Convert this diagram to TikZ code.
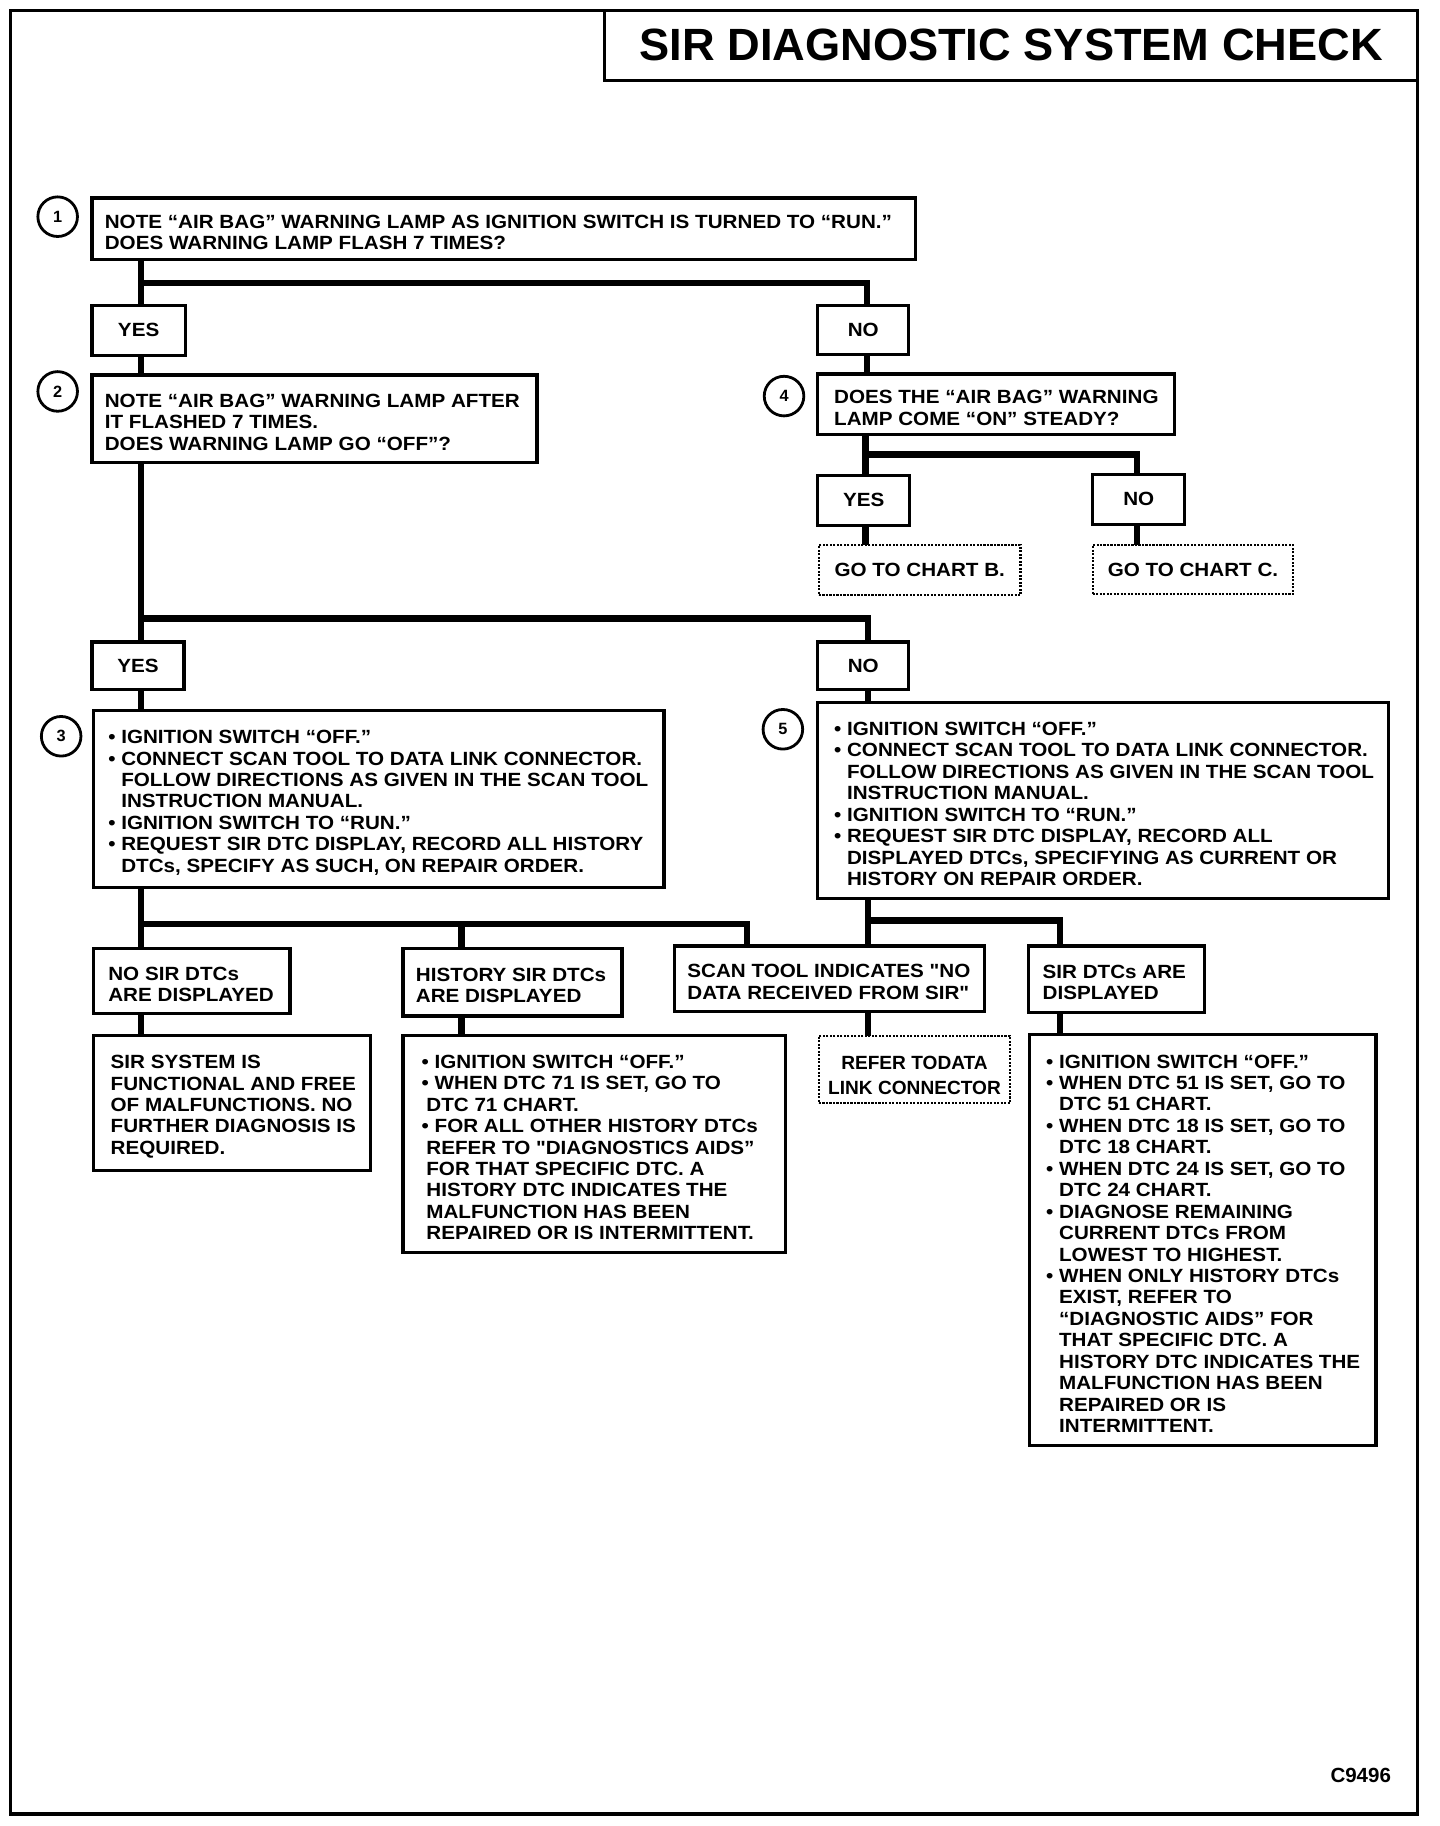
\documentclass[tikz,border=0pt]{standalone}
\usepackage{fontspec}
\newfontfamily\bodyf[FakeStretch=1.08]{Liberation Sans Bold}
\newfontfamily\plainf{Liberation Sans Bold}
\newcommand\bl{•\ }
\newcommand\ind{\hphantom{•\ }}
\newcommand\sind{\hspace*{2pt}}
\tikzset{
  box/.style={draw, line width=1.4pt, inner sep=0pt, outer sep=0pt},
  dbox/.style={draw, line width=0.9pt, dash pattern=on 0.9pt off 0.6pt, inner sep=0pt, outer sep=0pt},
  txt/.style={inner sep=0pt, outer sep=0pt, align=left, yshift=-1.5pt, font=\bodyf\fontsize{8.2}{9.2}\selectfont},
  ctxt/.style={align=center, font=\bodyf\fontsize{8.2}{9.2}\selectfont},
  conn/.style={line width=2.8pt, line join=miter},
  num/.style={circle, draw, line width=1.2pt, minimum size=17pt, inner sep=0pt, font=\plainf\fontsize{7}{8}\selectfont},
}
% name, x1, y1, x2, y2, xtext, text
\newcommand\tbox[7]{%
  \node[box, minimum width={(#4-#2)*0.5pt}, minimum height={(#5-#3)*0.5pt}] (#1) at ({(#2+#4)/2},{(#3+#5)/2}) {};
  \node[txt, anchor=west] (#1t) at (#6,{(#3+#5)/2}) {#7};}
% name, x1, y1, x2, y2, text, style
\newcommand\cbox[7]{%
  \node[#7, ctxt, minimum width={(#4-#2)*0.5pt}, minimum height={(#5-#3)*0.5pt}] (#1) at ({(#2+#4)/2},{(#3+#5)/2}) {#6};}
\begin{document}
\begin{tikzpicture}[x=0.5pt, y=-0.5pt]
\useasboundingbox (0,0) rectangle (1236,1567.4);

% frame and title
\node[draw, line width=1.4pt, inner sep=0pt, outer sep=0pt, minimum width=604pt, minimum height=774pt] (frame) at (613,783) {};
\node[draw, line width=1.4pt, inner sep=0pt, outer sep=0pt, minimum width=349pt, minimum height=30pt,
      font=\plainf\fontsize{19.4}{22}\selectfont] (title) at (868,39) {SIR DIAGNOSTIC SYSTEM CHECK};

% step numbers
\node[num] (c1) at (49.5,186) {1};
\node[num] (c2) at (49.5,336) {2};
\node[num] (c3) at (52.5,632) {3};
\node[num] (c4) at (673,340) {4};
\node[num] (c5) at (672,626) {5};

% boxes
\tbox{b1}{79}{170}{786}{223}{90}{NOTE “AIR BAG” WARNING LAMP AS IGNITION SWITCH IS TURNED TO “RUN.”\\DOES WARNING LAMP FLASH 7 TIMES?}
\cbox{y1}{79}{262}{159}{305}{YES}{box}
\cbox{n1}{702}{262}{780}{304}{NO}{box}
\tbox{b2}{79}{322}{461}{397}{90}{NOTE “AIR BAG” WARNING LAMP AFTER\\IT FLASHED 7 TIMES.\\DOES WARNING LAMP GO “OFF”?}
\tbox{b4}{702}{321}{1008}{373}{716}{DOES THE “AIR BAG” WARNING\\LAMP COME “ON” STEADY?}
\cbox{y4}{702}{408}{781}{451}{YES}{box}
\cbox{n4}{938}{407}{1017}{450}{NO}{box}
\cbox{cb}{703}{468}{876}{511}{GO TO CHART B.}{dbox}
\cbox{cc}{938}{468}{1110}{510}{GO TO CHART C.}{dbox}
\cbox{y3}{79}{551}{158}{592}{YES}{box}
\cbox{n3}{702}{551}{780}{592}{NO}{box}
\tbox{b3}{80}{610}{570}{762}{93}{\bl IGNITION SWITCH “OFF.”\\\bl CONNECT SCAN TOOL TO DATA LINK CONNECTOR.\\\ind FOLLOW DIRECTIONS AS GIVEN IN THE SCAN TOOL\\\ind INSTRUCTION MANUAL.\\\bl IGNITION SWITCH TO “RUN.”\\\bl REQUEST SIR DTC DISPLAY, RECORD ALL HISTORY\\\ind DTCs, SPECIFY AS SUCH, ON REPAIR ORDER.}
\tbox{b5}{702}{603}{1192}{771}{716}{\bl IGNITION SWITCH “OFF.”\\\bl CONNECT SCAN TOOL TO DATA LINK CONNECTOR.\\\ind FOLLOW DIRECTIONS AS GIVEN IN THE SCAN TOOL\\\ind INSTRUCTION MANUAL.\\\bl IGNITION SWITCH TO “RUN.”\\\bl REQUEST SIR DTC DISPLAY, RECORD ALL\\\ind DISPLAYED DTCs, SPECIFYING AS CURRENT OR\\\ind HISTORY ON REPAIR ORDER.}
\tbox{r1}{80}{814}{249}{870}{93}{NO SIR DTCs\\ARE DISPLAYED}
\tbox{r2}{346}{814}{534}{872}{357}{HISTORY SIR DTCs\\ARE DISPLAYED}
\tbox{r3}{579}{812}{845}{868}{590}{SCAN TOOL INDICATES "NO\\DATA RECEIVED FROM SIR"}
\tbox{r4}{883}{812}{1034}{869}{895}{SIR DTCs ARE\\DISPLAYED}
\tbox{s1}{80}{889}{318}{1005}{95}{SIR SYSTEM IS\\FUNCTIONAL AND FREE\\OF MALFUNCTIONS. NO\\FURTHER DIAGNOSIS IS\\REQUIRED.}
\tbox{s2}{346}{889}{674}{1075}{362}{\bl IGNITION SWITCH “OFF.”\\\bl WHEN DTC 71 IS SET, GO TO\\\sind DTC 71 CHART.\\\bl FOR ALL OTHER HISTORY DTCs\\\sind REFER TO "DIAGNOSTICS AIDS”\\\sind FOR THAT SPECIFIC DTC. A\\\sind HISTORY DTC INDICATES THE\\\sind MALFUNCTION HAS BEEN\\\sind REPAIRED OR IS INTERMITTENT.}
\node[dbox, minimum width=82pt, minimum height=29pt] (s3) at (785,918) {};
\node[align=center, inner sep=0pt, font=\plainf\fontsize{8.2}{11}\selectfont] (s3t) at ([yshift=-2.5pt]s3.center) {REFER TODATA\\LINK CONNECTOR};
\tbox{s4}{884}{888}{1181}{1241}{898}{\bl IGNITION SWITCH “OFF.”\\\bl WHEN DTC 51 IS SET, GO TO\\\ind DTC 51 CHART.\\\bl WHEN DTC 18 IS SET, GO TO\\\ind DTC 18 CHART.\\\bl WHEN DTC 24 IS SET, GO TO\\\ind DTC 24 CHART.\\\bl DIAGNOSE REMAINING\\\ind CURRENT DTCs FROM\\\ind LOWEST TO HIGHEST.\\\bl WHEN ONLY HISTORY DTCs\\\ind EXIST, REFER TO\\\ind “DIAGNOSTIC AIDS” FOR\\\ind THAT SPECIFIC DTC. A\\\ind HISTORY DTC INDICATES THE\\\ind MALFUNCTION HAS BEEN\\\ind REPAIRED OR IS\\\ind INTERMITTENT.}

\node[font=\plainf\fontsize{8.8}{10}\selectfont, inner sep=0pt] (code) at (1168,1524) {C9496};

% junctions
\coordinate (j1) at (121,243);
\coordinate (j1r) at (744,243);
\coordinate (j2) at (743,390);
\coordinate (j2r) at (976,390);
\coordinate (j3) at (121,531);
\coordinate (j3r) at (745,531);
\coordinate (j5) at (121,793);
\coordinate (j5b) at (396,793);
\coordinate (j5c) at (641,793);
\coordinate (j6) at (745,790);
\coordinate (j6b) at (910,790);

% connectors
\draw[conn] (b1.south -| j1) -- (j1) -- (j1r) -- (n1.north -| j1r);
\draw[conn] (j1) -- (y1.north -| j1);
\draw[conn] (y1.south -| j1) -- (b2.north -| j1);
\draw[conn] (n1.south -| j1r) -- (b4.north -| j1r);

\draw[conn] (b4.south -| j2) -- (j2) -- (j2r) -- (n4.north -| j2r);
\draw[conn] (j2) -- (y4.north -| j2);
\draw[conn] (y4.south -| j2) -- (cb.north -| j2);
\draw[conn] (n4.south -| j2r) -- (cc.north -| j2r);

\draw[conn] (b2.south -| j3) -- (j3) -- (j3r) -- (n3.north -| j3r);
\draw[conn] (j3) -- (y3.north -| j3);
\draw[conn] (y3.south -| j3) -- (b3.north -| j3);
\draw[conn] (n3.south -| j3r) -- (b5.north -| j3r);

\draw[conn] (b3.south -| j5) -- (j5) -- (j5c) -- (r3.north -| j5c);
\draw[conn] (j5) -- (r1.north -| j5);
\draw[conn] (j5b) -- (r2.north -| j5b);
\draw[conn] (b5.south -| j6) -- (j6) -- (j6b) -- (r4.north -| j6b);
\draw[conn] (j6) -- (r3.north -| j6);

\draw[conn] (r1.south -| j5) -- (s1.north -| j5);
\draw[conn] (r2.south -| j5b) -- (s2.north -| j5b);
\draw[conn] (r3.south -| j6) -- (s3.north -| j6);
\draw[conn] (r4.south -| j6b) -- (s4.north -| j6b);
\end{tikzpicture}
\end{document}
